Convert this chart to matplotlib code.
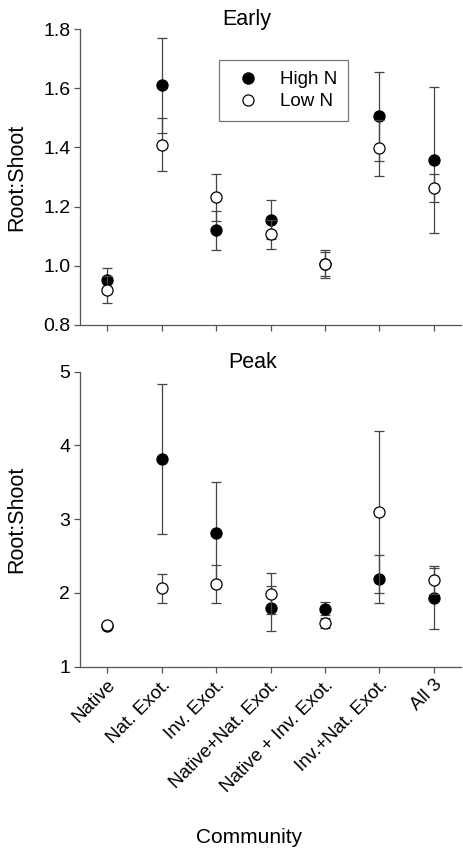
import matplotlib.pyplot as plt
from matplotlib.lines import Line2D

communities = ['Native', 'Nat. Exot.', 'Inv. Exot.', 'Native+Nat. Exot.',
               'Native + Inv. Exot.', 'Inv.+Nat. Exot.', 'All 3']
x = range(1, 8)

# Early harvest
early_high = [0.953, 1.610, 1.119, 1.156, 1.006, 1.505, 1.358]
early_high_err = [0.038, 0.160, 0.065, 0.065, 0.047, 0.152, 0.246]
early_low = [0.918, 1.410, 1.231, 1.106, 1.005, 1.398, 1.262]
early_low_err = [0.046, 0.090, 0.080, 0.049, 0.040, 0.096, 0.048]

# Peak harvest
peak_high = [1.55, 3.82, 2.81, 1.793, 1.784, 2.189, 1.928]
peak_high_err = [0.03, 1.02, 0.70, 0.306, 0.09, 0.325, 0.414]
peak_low = [1.56, 2.063, 2.122, 1.991, 1.590, 3.099, 2.180]
peak_low_err = [0.03, 0.198, 0.252, 0.275, 0.07, 1.095, 0.19]

plt.rcParams['font.family'] = ['Liberation Sans', 'DejaVu Sans']

fig = plt.figure(figsize=(4.63, 8.5), dpi=100)
ax1 = fig.add_axes([0.1728, 0.618, 0.8229, 0.3475])
ax2 = fig.add_axes([0.1728, 0.2157, 0.8229, 0.347])

ebar = dict(ecolor='#444444', elinewidth=0.9, capsize=3.5, capthick=0.9,
            linestyle='none', markersize=8, markeredgewidth=0.9)


def draw(ax, hi, hi_err, lo, lo_err):
    ax.errorbar(x, hi, yerr=hi_err, fmt='o', color='black',
                markerfacecolor='black', markeredgecolor='black',
                zorder=3, **ebar)
    ax.errorbar(x, lo, yerr=lo_err, fmt='o', color='black',
                markerfacecolor='white', markeredgecolor='black',
                zorder=4, **ebar)
    ax.set_xlim(0.5, 7.5)
    ax.spines['top'].set_visible(False)
    ax.spines['right'].set_visible(False)
    for s in ['left', 'bottom']:
        ax.spines[s].set_color('#555555')
        ax.spines[s].set_linewidth(0.9)
    ax.tick_params(direction='out', length=4, width=0.9, color='#555555',
                   labelsize=14, pad=3)
    ax.set_xticks(list(x))
    ax.set_ylabel('Root:Shoot', fontsize=15.5)
    ax.yaxis.set_label_coords(-0.138, 0.5)


draw(ax1, early_high, early_high_err, early_low, early_low_err)
ax1.set_ylim(0.8, 1.8)
ax1.set_yticks([0.8, 1.0, 1.2, 1.4, 1.6, 1.8])
ax1.set_yticklabels(['0.8', '1.0', '1.2', '1.4', '1.6', '1.8'])
ax1.set_xticklabels([])

draw(ax2, peak_high, peak_high_err, peak_low, peak_low_err)
ax2.set_ylim(1, 5)
ax2.set_yticks([1, 2, 3, 4, 5])
ax2.set_xticklabels(communities, rotation=45, ha='right',
                    rotation_mode='anchor', fontsize=13.5)

handles = [Line2D([], [], marker='o', linestyle='none', markersize=8,
                  markerfacecolor='black', markeredgecolor='black'),
           Line2D([], [], marker='o', linestyle='none', markersize=8,
                  markerfacecolor='white', markeredgecolor='black',
                  markeredgewidth=0.9)]
leg = ax1.legend(handles, ['High N', 'Low N'], loc='upper left',
                 bbox_to_anchor=(219 / 463, 1 - 60 / 850),
                 bbox_transform=fig.transFigure, fancybox=False,
                 edgecolor='#555555', fontsize=13.5, handletextpad=0.75,
                 borderpad=0.6, labelspacing=0.25, handlelength=1.9,
                 borderaxespad=0)
leg.get_frame().set_linewidth(0.9)

fig.text(247 / 463, 1 - 25 / 850, 'Early', ha='center', va='baseline', fontsize=15.5)
fig.text(253 / 463, 1 - 368 / 850, 'Peak', ha='center', va='baseline', fontsize=15.5)
fig.text(249 / 463, 1 - 843 / 850, 'Community', ha='center', va='baseline', fontsize=15)

fig.savefig('out.png', dpi=100)
